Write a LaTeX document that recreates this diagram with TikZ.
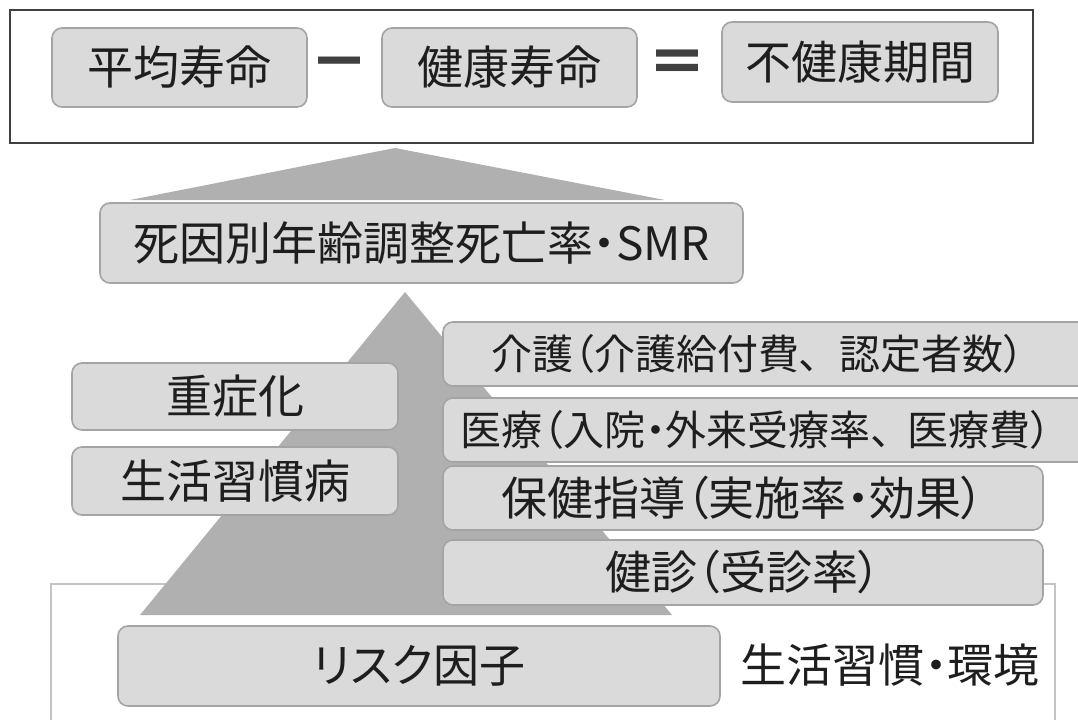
\documentclass[tikz,border=0pt]{standalone}
\usepackage{fontspec}
\setmainfont{Noto Sans CJK JP}[RawFeature=+palt]
\definecolor{boxfill}{HTML}{DADADA}
\definecolor{boxline}{HTML}{A4A4A4}
\definecolor{tri}{HTML}{B0B0B0}
\definecolor{txt}{HTML}{1E1E1E}
\definecolor{framecol}{HTML}{404040}
\definecolor{lowframe}{HTML}{C4C4C4}
\begin{document}
\begin{tikzpicture}[x=0.5pt,y=-0.5pt,
  boxshape/.style={draw=boxline, fill=boxfill, rounded corners=5pt, line width=0.8pt},
  box/.style={boxshape, text=txt, font=\fontsize{23}{28}\selectfont, inner sep=0pt, align=center},
  sign/.style={text=framecol, font=\fontsize{30}{30}\selectfont\bfseries, inner sep=0pt},
  plain/.style={text=txt, font=\fontsize{23}{28}\selectfont, inner sep=0pt},
  small/.style={text=txt, font=\fontsize{20.5}{26}\selectfont, inner sep=0pt},
  trifill/.style={fill=tri}]
\clip (0,0) rectangle (1078,719);
\fill[white] (0,0) rectangle (1078,719);
% frames
\draw[draw=framecol, line width=1.2pt] (10,10) rectangle (1033,143);
\draw[draw=lowframe, line width=0.8pt] (51,730) -- (51,584) -- (1055,584) -- (1055,730);
% triangles
\fill[trifill] (395,148) -- (665,200) -- (130,200) -- cycle;
\fill[trifill] (405,292) -- (672,615) -- (140,615) -- cycle;
% top row
\node[box, minimum width=127.5pt, minimum height=39.5pt] (avg) at (179.5,67.5) {平均寿命};
\node[sign] (minus) at (339,70) {－};
\node[box, minimum width=127.5pt, minimum height=39.5pt] (hale) at (509.5,67.5) {健康寿命};
\node[sign] (eq) at (677,67) {＝};
\node[box, minimum width=138pt, minimum height=40pt] (unh) at (860,62) {不健康期間};
% SMR
\node[box, minimum width=321.5pt, minimum height=40pt] (smr) at (421.5,243) {死因別年齢調整死亡率・SMR};
% left boxes
\node[box, minimum width=163pt, minimum height=33.5pt] (sev) at (235,396.5) {重症化};
\node[box, minimum width=163pt, minimum height=34pt] (ld) at (235,481) {生活習慣病};
% right boxes (the top two run off the right edge)
\path[boxshape] (1100,322) -- (443,322) -- (443,386) -- (1100,386);
\node[small] (care) at (758,354) {介護（介護給付費、\hspace{0.5em}認定者数）};
\path[boxshape] (1100,398) -- (443,398) -- (443,462) -- (1100,462);
\node[small] (med) at (756,430) {医療（入院・外来受療率、\hspace{0.4em}医療費）};
\node[box, minimum width=300pt, minimum height=32pt] (guid) at (743,498) {保健指導（実施率・効果）};
\node[box, minimum width=300pt, minimum height=32.5pt] (chk) at (743,572.5) {健診（受診率）};
% bottom
\node[box, minimum width=301pt, minimum height=40pt] (risk) at (419,666) {リスク因子};
\node[plain] (env) at (890,665) {生活習慣・環境};
\end{tikzpicture}
\end{document}
